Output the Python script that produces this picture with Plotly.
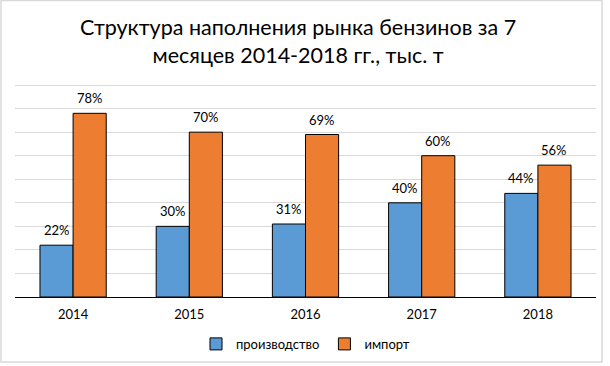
import plotly.graph_objects as go

years = ["2014", "2015", "2016", "2017", "2018"]
production = [0.22, 0.30, 0.31, 0.40, 0.44]
imports = [0.78, 0.70, 0.69, 0.60, 0.56]
series_names = ["производство", "импорт"]
title_text = "Структура наполнения рынка бензинов за 7<br>месяцев 2014-2018 гг., тыс. т"

W, H = 610, 366
L, R, T, B = 15, 14, 84, 69
FONT = "Lato, Open Sans, sans-serif"

fig = go.Figure()
fig.add_trace(go.Bar(x=years, y=production, name=series_names[0],
                     marker=dict(color="#5B9BD5", line=dict(color="#000000", width=1))))
fig.add_trace(go.Bar(x=years, y=imports, name=series_names[1],
                     marker=dict(color="#ED7D31", line=dict(color="#000000", width=1))))

ann = []
for vals, shift in ((production, -16.5), (imports, 16.5)):
    for i, v in enumerate(vals):
        ann.append(dict(x=i, y=v, xref="x", yref="y", text=f"{round(v*100)}%",
                        showarrow=False, xshift=shift, yshift=15,
                        font=dict(size=13, color="#000000", family=FONT)))

ph = H - T - B
pw = W - L - R
ann.append(dict(text=title_text, xref="paper", yref="paper",
                x=0.5 - 8 / pw, xanchor="center",
                y=(H - B - 41) / ph, yanchor="middle",
                showarrow=False, align="center",
                font=dict(size=21.5, color="#000000", family=FONT)))

fig.add_shape(type="rect", xref="paper", yref="paper",
              x0=(1 - L) / pw, x1=(602 - L) / pw,
              y0=(H - B - 362) / ph, y1=(H - B - 0.5) / ph,
              line=dict(color="#D9D9D9", width=1.5), layer="below")

fig.update_layout(
    width=W, height=H,
    margin=dict(l=L, r=R, t=T, b=B, autoexpand=False),
    paper_bgcolor="white", plot_bgcolor="white",
    barmode="group", bargap=0.43, bargroupgap=0,
    xaxis=dict(type="category", showline=True, linecolor="#000000", linewidth=1, ticks="",
               ticklabelstandoff=5,
               tickfont=dict(size=13, color="#000000", family=FONT), showgrid=False),
    yaxis=dict(range=[0, 0.9045], tickvals=[0.1, 0.2, 0.3, 0.4, 0.5, 0.6, 0.7, 0.8, 0.9],
               showticklabels=False, showline=False,
               gridcolor="#D9D9D9", gridwidth=1, zeroline=False),
    legend=dict(orientation="h", x=0.5, xanchor="center", y=-0.15, yanchor="top",
                itemwidth=30,
                font=dict(size=13, color="#000000", family=FONT)),
    annotations=ann,
    font=dict(family=FONT),
)

fig.write_html("out.html", config={"displayModeBar": False},
               post_script="document.body.style.margin='0';")
